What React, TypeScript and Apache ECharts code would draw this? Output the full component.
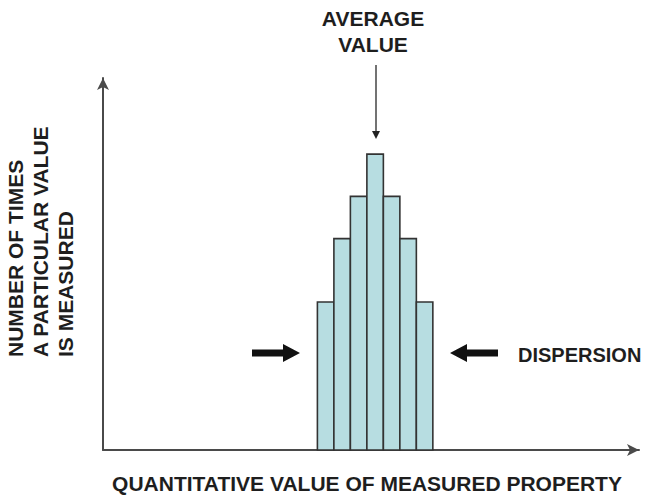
import React, { useEffect, useRef } from "react";
import * as echarts from "echarts";

// Histogram bins (x units) and counts (arbitrary units)
const binStarts = [13, 14, 15, 16, 17, 18, 19];
const counts = [3.5, 5, 6, 7, 6, 5, 3.5];
const xMax = 32.5;
const yMax = 8.8;

const averageLabel = ["AVERAGE", "VALUE"];
const yLabelLines = ["NUMBER OF TIMES", "A PARTICULAR VALUE", "IS MEASURED"];
const xLabel = "QUANTITATIVE VALUE OF MEASURED PROPERTY";
const dispersionLabel = "DISPERSION";

const FONT = "'Liberation Sans', Arial, Helvetica, sans-serif";
const TXT = "#1e1e1e";

export default function App() {
  const ref = useRef<HTMLDivElement>(null);
  useEffect(() => {
    if (!ref.current) return;
    const chart = echarts.init(ref.current, null, { renderer: "svg" });
    const data = binStarts.map((s, i) => [s, s + 1, counts[i]]);
    const textStyle = (t: string, extra: any = {}) => ({
      text: t,
      font: `bold 21px ${FONT}`,
      fill: TXT,
      ...extra,
    });
    chart.setOption({
      animation: false,
      backgroundColor: "#ffffff",
      grid: { left: 103, right: 11, top: 78, bottom: 47, containLabel: false },
      xAxis: {
        type: "value",
        min: 0,
        max: xMax,
        axisLine: {
          show: true,
          symbol: ["none", "arrow"],
          symbolSize: [9, 12],
          lineStyle: { color: "#4a4a4a", width: 2 },
        },
        axisTick: { show: false },
        axisLabel: { show: false },
        splitLine: { show: false },
      },
      yAxis: {
        type: "value",
        min: 0,
        max: yMax,
        axisLine: {
          show: true,
          symbol: ["none", "arrow"],
          symbolSize: [9, 12],
          lineStyle: { color: "#4a4a4a", width: 2 },
        },
        axisTick: { show: false },
        axisLabel: { show: false },
        splitLine: { show: false },
      },
      series: [
        {
          type: "custom",
          data,
          encode: { x: [0, 1], y: 2 },
          renderItem: (params: any, api: any) => {
            const x0 = api.value(0);
            const x1 = api.value(1);
            const h = api.value(2);
            const p0 = api.coord([x0, h]);
            const p1 = api.coord([x1, 0]);
            return {
              type: "rect",
              shape: { x: p0[0], y: p0[1], width: p1[0] - p0[0], height: p1[1] - p0[1] },
              style: { fill: "#b7dde1", stroke: "#333333", lineWidth: 1.6 },
            };
          },
          z: 1,
        },
      ],
      graphic: [
        // Average value label
        { type: "text", x: 373, y: 18, style: textStyle(averageLabel[0], { align: "center", verticalAlign: "middle" }) },
        { type: "text", x: 373, y: 44, style: textStyle(averageLabel[1], { align: "center", verticalAlign: "middle" }) },
        // Average arrow
        { type: "line", shape: { x1: 376, y1: 65, x2: 376, y2: 132 }, style: { stroke: "#444", lineWidth: 1.5 } },
        { type: "polygon", shape: { points: [[372, 131], [380, 131], [376, 139]] }, style: { fill: "#222" } },
        // Y label (rotated)
        ...yLabelLines.map((t, i) => ({
          type: "text",
          x: 15 + i * 25,
          y: 357,
          rotation: Math.PI / 2,
          style: textStyle(t, { align: "left", verticalAlign: "middle" }),
        })),
        // X label
        { type: "text", x: 367, y: 483, style: textStyle(xLabel, { align: "center", verticalAlign: "middle" }) },
        // Dispersion label
        { type: "text", x: 518, y: 355, style: textStyle(dispersionLabel, { align: "left", verticalAlign: "middle", font: `bold 20px ${FONT}` }) },
        // Left dispersion arrow (pointing right)
        {
          type: "polygon",
          shape: { points: [[252, 349.5], [283, 349.5], [283, 344], [300, 353], [283, 362], [283, 356.5], [252, 356.5]] },
          style: { fill: "#111" },
        },
        // Right dispersion arrow (pointing left)
        {
          type: "polygon",
          shape: { points: [[498, 349.5], [467, 349.5], [467, 344], [450, 353], [467, 362], [467, 356.5], [498, 356.5]] },
          style: { fill: "#111" },
        },
      ],
    });
    return () => chart.dispose();
  }, []);
  return (
    <div
      ref={ref}
      style={{ position: "fixed", left: 0, top: 0, width: 650, height: 497, background: "#fff" }}
    />
  );
}
